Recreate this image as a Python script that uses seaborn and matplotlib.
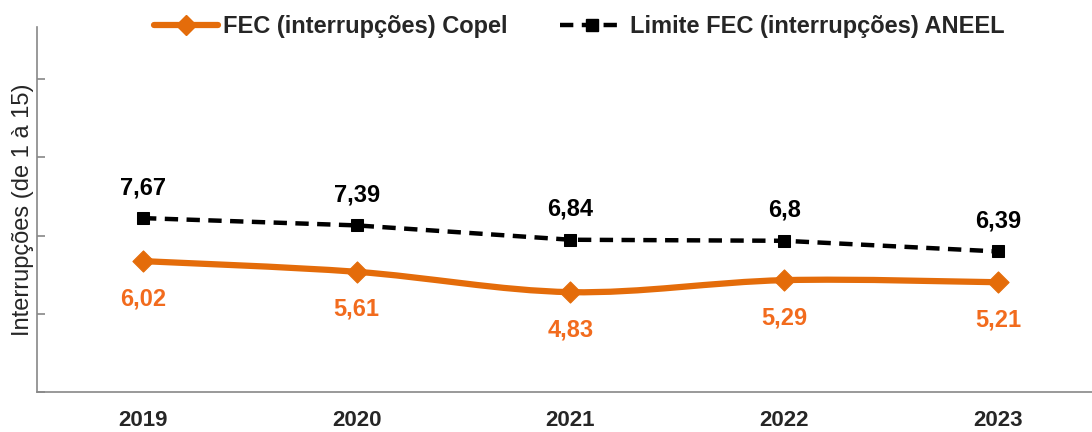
import numpy as np
import pandas as pd
import matplotlib
matplotlib.use("Agg")
import matplotlib.pyplot as plt
from matplotlib.path import Path
from matplotlib.patches import PathPatch
from matplotlib.lines import Line2D
import seaborn as sns

anos = ["2019", "2020", "2021", "2022", "2023"]
fec_copel = [6.02, 5.61, 4.83, 5.29, 5.21]
fec_aneel = [7.67, 7.39, 6.84, 6.80, 6.39]
rotulos_copel = ["6,02", "5,61", "4,83", "5,29", "5,21"]
rotulos_aneel = ["7,67", "7,39", "6,84", "6,8", "6,39"]

LARANJA = "#E46C0A"
LARANJA_TXT = "#F26B1D"

sns.set_theme(style="white")
plt.rcParams["font.family"] = ["Liberation Sans", "DejaVu Sans"]

df = pd.DataFrame({"ano": anos, "pos": range(len(anos)),
                   "copel": fec_copel, "aneel": fec_aneel})

fig = plt.figure(figsize=(10.92, 4.32), dpi=100)
ax = fig.add_axes([37 / 1092, 40 / 432, 1055 / 1092, 365 / 432])

# linha suavizada (estilo Excel) para a Copel
x = df["pos"].to_numpy(dtype=float)
y = df["copel"].to_numpy(dtype=float)
verts = [(x[0], y[0])]
codes = [Path.MOVETO]
n = len(x)
for i in range(n - 1):
    p0 = (x[max(i - 1, 0)], y[max(i - 1, 0)])
    p1 = (x[i], y[i])
    p2 = (x[i + 1], y[i + 1])
    p3 = (x[min(i + 2, n - 1)], y[min(i + 2, n - 1)])
    c1 = (p1[0] + (p2[0] - p0[0]) / 6, p1[1] + (p2[1] - p0[1]) / 6)
    c2 = (p2[0] - (p3[0] - p1[0]) / 6, p2[1] - (p3[1] - p1[1]) / 6)
    verts += [c1, c2, p2]
    codes += [Path.CURVE4] * 3
ax.add_patch(PathPatch(Path(verts, codes), fill=False, edgecolor=LARANJA,
                       lw=4.5, capstyle="round", zorder=3))
sns.scatterplot(data=df, x="pos", y="copel", marker="D", s=115, color=LARANJA,
                edgecolor=LARANJA, ax=ax, zorder=4, legend=False)

sns.lineplot(data=df, x="pos", y="aneel", color="black", lw=3.2,
             marker="s", markersize=8.5, markeredgecolor="black",
             dashes=False, ax=ax, zorder=3)
ax.lines[-1].set_dashes([3.0, 1.9])

for i in range(n):
    ax.annotate(rotulos_aneel[i], (x[i], fec_aneel[i]), xytext=(0, 22),
                textcoords="offset points", ha="center", va="center",
                fontsize=17, fontweight="bold", color="black")
    ax.annotate(rotulos_copel[i], (x[i], fec_copel[i]), xytext=(0, -27),
                textcoords="offset points", ha="center", va="center",
                fontsize=17, fontweight="bold", color=LARANJA_TXT)

ax.set_xlim(-0.496, 4.44)
ax.set_ylim(1, 15)
ax.set_yticks([1, 4, 7, 10, 13])
ax.set_yticklabels([])
ax.set_xticks(range(n))
ax.set_xticklabels(anos, fontsize=16, fontweight="bold")
ax.set_xlabel("")
ax.set_ylabel("Interrupções (de 1 à 15)", fontsize=17, labelpad=2)
ax.tick_params(axis="y", left=True, direction="in", length=6, width=1.2,
               color="#888888", pad=0)
ax.tick_params(axis="x", bottom=False, pad=7)
for s in ["top", "right"]:
    ax.spines[s].set_visible(False)
for s in ["left", "bottom"]:
    ax.spines[s].set_color("#888888")
    ax.spines[s].set_linewidth(1.2)

handles = [
    Line2D([], [], color=LARANJA, lw=4.5, marker="D", markersize=10),
    Line2D([], [], color="black", lw=3.2, dashes=[3.0, 1.9], marker="s", markersize=8),
]
fig.legend(handles, ["FEC (interrupções) Copel", "Limite FEC (interrupções) ANEEL"],
           loc="center", bbox_to_anchor=(579 / 1092, 1 - 27 / 432), ncol=2,
           frameon=False, prop={"size": 17, "weight": "bold"},
           handlelength=2.7, handletextpad=0.25, columnspacing=2.2)

fig.savefig("out.png", dpi=100)
